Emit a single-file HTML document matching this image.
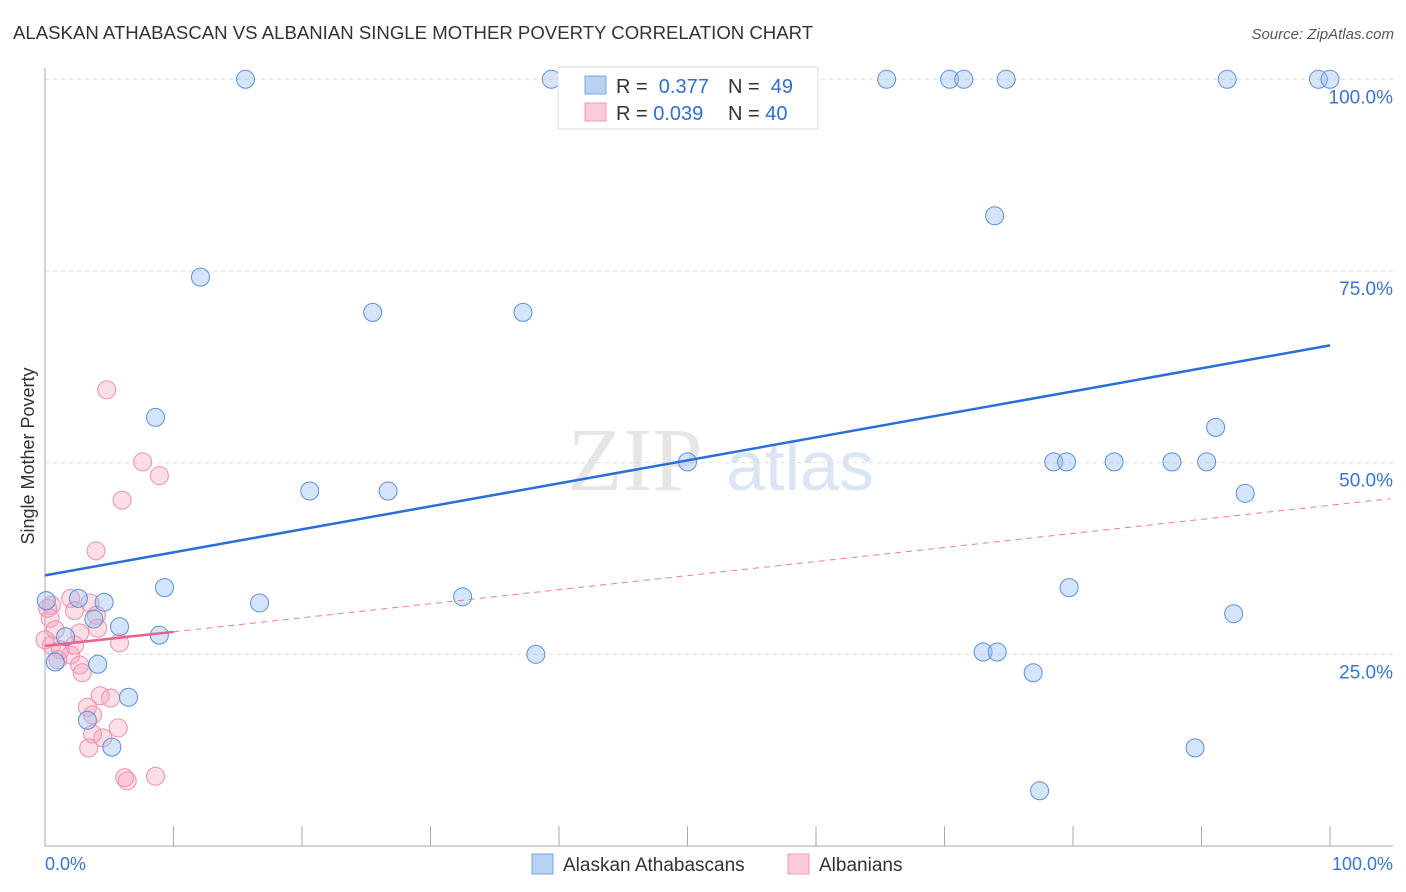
<!DOCTYPE html>
<html><head><meta charset="utf-8"><style>
body{margin:0;background:#fff;font-family:"Liberation Sans",sans-serif}
#wrap{position:relative;width:1406px;height:892px;overflow:hidden}
</style></head><body><div id="wrap">
<svg id="svg" width="1406" height="892" xmlns="http://www.w3.org/2000/svg">
<text x="13" y="39" font-size="18.6" fill="#333">ALASKAN ATHABASCAN VS ALBANIAN SINGLE MOTHER POVERTY CORRELATION CHART</text>
<text x="1394" y="39" font-size="15" fill="#555" font-style="italic" text-anchor="end">Source: ZipAtlas.com</text>
<text x="635" y="490" font-size="90" fill="#e6e6e6" font-family="Liberation Serif" text-anchor="middle">ZIP</text>
<text x="800" y="490" font-size="70" fill="#dbe6f5" text-anchor="middle">atlas</text>
<text transform="translate(34,456) rotate(-90)" font-size="18" fill="#333" text-anchor="middle">Single Mother Poverty</text>
<g id="grid"></g><g id="axes"></g><g id="pts"></g><g id="trend"></g>
<g>
<rect x="558" y="67" width="260" height="62" fill="#fff" stroke="#ddd"/>
<rect x="585" y="76" width="21" height="18" fill="#b9d2f3" stroke="#7aa6e6"/>
<rect x="585" y="103" width="21" height="18" fill="#fbcbd8" stroke="#f09ab3"/>
<text x="616" y="93" font-size="20" fill="#333">R = <tspan fill="#2f6fce">&#160;0.377</tspan></text>
<text x="728" y="93" font-size="20" fill="#333">N = <tspan fill="#2f6fce">&#160;49</tspan></text>
<text x="616" y="120" font-size="20" fill="#333">R = <tspan fill="#2f6fce">0.039</tspan></text>
<text x="728" y="120" font-size="20" fill="#333">N = <tspan fill="#2f6fce">40</tspan></text>
</g>
<g>
<rect x="532" y="854" width="21" height="20" fill="#b9d2f3" stroke="#7aa6e6"/>
<text x="563" y="871" font-size="19" fill="#333">Alaskan Athabascans</text>
<rect x="788" y="854" width="21" height="20" fill="#fbcbd8" stroke="#f09ab3"/>
<text x="819" y="871" font-size="19" fill="#333">Albanians</text>
</g>
</svg></div>
<script>
const yTicks=[100,75,50,25];
const yTickLabels=["100.0%","75.0%","50.0%","25.0%"];
const blueX=[15.6,39.4,65.5,70.4,71.5,74.8,92.0,99.1,100,73.9,12.1,25.5,37.2,8.6,91.1,50.0,78.5,79.5,83.2,87.7,90.4,20.6,26.7,93.4,9.3,79.7,32.5,16.7,0.1,2.6,4.6,3.8,92.5,5.8,1.6,8.9,38.2,73.0,74.1,4.1,0.8,76.9,6.5,3.3,5.2,89.5,77.4];
const blueY=[100,100,100,100,100,100,100,100,100,82.2,74.2,69.6,69.6,55.9,54.6,50.1,50.1,50.1,50.1,50.1,50.1,46.3,46.3,46.0,33.7,33.7,32.5,31.7,32.0,32.3,31.8,29.6,30.3,28.6,27.3,27.5,25.0,25.3,25.3,23.7,24.0,22.6,19.4,16.4,12.9,12.8,7.2];
const pinkX=[4.8,7.6,8.9,6.0,3.97,2.0,2.3,3.5,4.0,0.5,0.4,2.7,4.1,0.8,0.5,1.2,2.0,2.3,1.0,2.7,2.9,5.8,4.3,5.1,3.3,3.7,5.7,4.5,3.7,3.4,6.2,6.4,8.6,0.2,0.0];
const pinkY=[59.5,50.1,48.3,45.1,38.5,32.3,30.7,31.7,30.1,31.4,29.7,27.8,28.4,28.2,26.2,25.6,24.9,26.2,24.3,23.6,22.6,26.5,19.6,19.3,18.1,17.1,15.4,14.1,14.6,12.8,8.9,8.5,9.1,31.0,26.9];
const blueTrend=[35.3,65.3];
const pinkTrend=[26.1,45.3];
const NS="http://www.w3.org/2000/svg";
const X=v=>45+v*12.85, Y=v=>846-v*7.667;
function mk(t,a,p){const e=document.createElementNS(NS,t);for(const k in a)e.setAttribute(k,a[k]);p.appendChild(e);return e;}
const grid=document.getElementById('grid'),axes=document.getElementById('axes'),pts=document.getElementById('pts'),tr=document.getElementById('trend');
yTicks.forEach((t,i)=>{
 const l=mk('line',{x1:45,x2:1393,y1:Y(t),y2:Y(t),stroke:'#ddd','stroke-dasharray':'4,4'},grid);
 
 
 const tx=mk('text',{x:1393,y:Y(t)+24,'font-size':19,fill:'#3a74d0','text-anchor':'end'},axes);
 tx.textContent=yTickLabels[i];
 
 
});
const ax=mk('line',{x1:45,x2:45,y1:68,y2:846,stroke:'#aaa'},axes);


const bx=mk('line',{x1:45,x2:1393,y1:846,y2:846,stroke:'#aaa'},axes);


for(let i=0;i<=10;i++){const t=mk('line',{x1:X(i*10),x2:X(i*10),y1:826,y2:846,stroke:'#aaa'},axes);
 
 }
[["0.0%",45,'start'],["100.0%",1393,'end']].forEach(d=>{const t=mk('text',{x:d[1],y:870,'font-size':18,fill:'#3a74d0','text-anchor':d[2]},axes);t.textContent=d[0];
 
 });
pinkX.forEach((x,i)=>{const c=mk('circle',{cx:X(x),cy:Y(pinkY[i]),r:9,fill:'rgba(246,160,186,0.35)',stroke:'#ef8fae','stroke-width':1},pts);
 
 });
blueX.forEach((x,i)=>{const c=mk('circle',{cx:X(x),cy:Y(blueY[i]),r:9,fill:'rgba(150,190,240,0.4)',stroke:'#5b8fdc','stroke-width':1},pts);
 
 });
const bl=mk('line',{x1:X(0),y1:Y(blueTrend[0]),x2:X(100),y2:Y(blueTrend[1]),stroke:'#2a6fd6','stroke-width':2.5},tr);


const pAt=x=>pinkTrend[0]+(pinkTrend[1]-pinkTrend[0])*x/104.7;
const pd=mk('line',{x1:X(10),y1:Y(pAt(10)),x2:X(104.7),y2:Y(pAt(104.7)),stroke:'#ec7a9c','stroke-width':1,'stroke-dasharray':'6,5'},tr);


const ps=mk('line',{x1:X(0),y1:Y(pAt(0)),x2:X(10),y2:Y(pAt(10)),stroke:'#e8638c','stroke-width':2.5},tr);


</script></body></html>
